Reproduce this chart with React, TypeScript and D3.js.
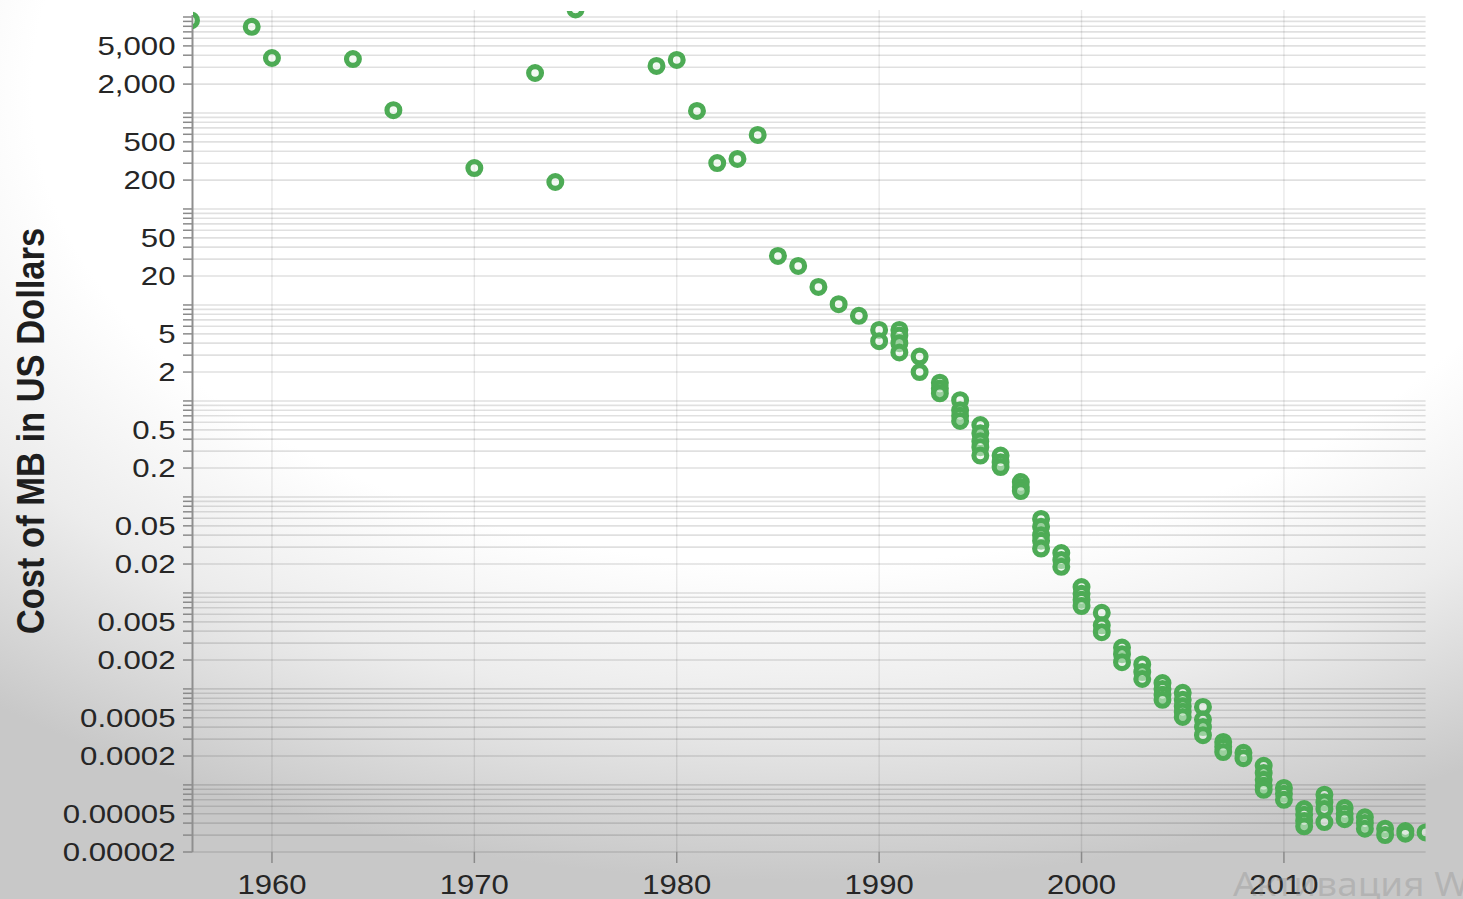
import React from "react";
import * as d3 from "d3";

const years = [
  1956, 1959, 1960, 1964, 1966, 1970, 1973, 1974, 1975, 1979, 1980, 1981, 1982, 1983, 1984,
  1985, 1986, 1987, 1988, 1989,
  1990, 1990,
  1991, 1991, 1991, 1991,
  1992, 1992,
  1993, 1993, 1993,
  1994, 1994, 1994, 1994,
  1995, 1995, 1995, 1995, 1995,
  1996, 1996, 1996,
  1997, 1997, 1997,
  1998, 1998, 1998, 1998, 1998,
  1999, 1999, 1999,
  2000, 2000, 2000, 2000,
  2001, 2001, 2001,
  2002, 2002, 2002,
  2003, 2003, 2003,
  2004, 2004, 2004, 2004,
  2005, 2005, 2005, 2005, 2005,
  2006, 2006, 2006, 2006,
  2007, 2007, 2007,
  2008, 2008,
  2009, 2009, 2009, 2009, 2009,
  2010, 2010, 2010,
  2011, 2011, 2011, 2011,
  2012, 2012, 2012, 2012,
  2013, 2013, 2013,
  2014, 2014, 2014,
  2015, 2015,
  2016, 2016,
  2017,
];

const costs = [
  9200, 7900, 3740, 3650, 1070, 267, 2610, 191, 12000, 3090, 3570, 1050, 301, 332, 590,
  32.4, 25.5, 15.4, 10.2, 7.7,
  5.5, 4.2,
  5.5, 4.8, 4.0, 3.2,
  2.9, 2.0,
  1.55, 1.35, 1.2,
  1.02, 0.8, 0.7, 0.62,
  0.56, 0.46, 0.38, 0.33, 0.27,
  0.27, 0.23, 0.205,
  0.143, 0.127, 0.115,
  0.059, 0.049, 0.04, 0.035, 0.029,
  0.026, 0.022, 0.0187,
  0.0115, 0.0098, 0.0085, 0.0073,
  0.0062, 0.0046, 0.0039,
  0.0027, 0.0023, 0.0019,
  0.0018, 0.0015, 0.00127,
  0.00115, 0.001, 0.00087, 0.00077,
  0.00091, 0.00077, 0.00066, 0.00058, 0.00051,
  0.00065, 0.00048, 0.0004, 0.00033,
  0.00028, 0.00025, 0.00022,
  0.000216, 0.00019,
  0.000158, 0.000133, 0.000113, 0.000098, 0.000089,
  0.000093, 0.000081, 0.00007,
  0.000056, 0.000049, 0.000042, 0.000037,
  0.000079, 0.000066, 0.000056, 0.000041,
  0.0000575, 0.00005, 0.000044,
  0.000046, 0.00004, 0.000035,
  0.000035, 0.00003,
  0.000033, 0.000031,
  0.000032,
];

const yLabelValues = [
  5000, 2000, 500, 200, 50, 20, 5, 2, 0.5, 0.2, 0.05, 0.02, 0.005, 0.002, 0.0005, 0.0002,
  0.00005, 0.00002,
];
const yLabelTexts = [
  "5,000", "2,000", "500", "200", "50", "20", "5", "2", "0.5", "0.2", "0.05", "0.02",
  "0.005", "0.002", "0.0005", "0.0002", "0.00005", "0.00002",
];
const xTickYears = [1960, 1970, 1980, 1990, 2000, 2010];
const yTitle = "Cost of MB in US Dollars";
const watermark = "Активация Windows";

const W = 1463;
const H = 899;
const left = 192.5;
const right = 1425.6;
const top = 17;
const bottom = 852;

export default function App() {
  const x = d3.scaleLinear().domain([1956, 2017]).range([191, right]);
  const y = d3.scaleLog().domain([0.00002, 10000]).range([bottom, top]);
  const ticks = y.ticks();
  const green = "#4dab55";
  const font = "'Liberation Sans', Arial, Helvetica, sans-serif";

  return (
    <svg
      width={W}
      height={H}
      style={{ position: "absolute", left: 0, top: 0, display: "block" }}
    >
      <defs>
        <radialGradient id="bg" cx="0.55" cy="0.1" r="0.88" fx="0.55" fy="0.1">
          <stop offset="0" stopColor="#ffffff" />
          <stop offset="0.6" stopColor="#ffffff" />
          <stop offset="0.78" stopColor="#ececec" />
          <stop offset="1" stopColor="#c8c8c8" />
        </radialGradient>
        <clipPath id="plotClip">
          <rect x={left + 0.5} y={11} width={right - left - 0.5} height={bottom + 20 - 11} />
        </clipPath>
      </defs>
      <rect x={0} y={0} width={W} height={H} fill="url(#bg)" />

      {/* vertical grid lines */}
      {xTickYears.map((yr) => (
        <line
          key={"vg" + yr}
          x1={x(yr)}
          x2={x(yr)}
          y1={10}
          y2={bottom}
          stroke="#000"
          strokeOpacity={0.09}
          strokeWidth={1.4}
        />
      ))}

      {/* horizontal grid lines */}
      {ticks.map((t, i) => (
        <line
          key={"hg" + i}
          x1={left}
          x2={right}
          y1={y(t)}
          y2={y(t)}
          stroke="#000"
          strokeOpacity={0.12}
          strokeWidth={1.6}
        />
      ))}

      {/* y ticks */}
      {ticks.map((t, i) => (
        <line
          key={"yt" + i}
          x1={183}
          x2={left}
          y1={y(t)}
          y2={y(t)}
          stroke="#8a8a8a"
          strokeWidth={1.5}
        />
      ))}
      <line x1={left} x2={left} y1={15} y2={bottom} stroke="#8f8f8f" strokeWidth={2} />

      {/* x ticks */}
      {xTickYears.map((yr) => (
        <line
          key={"xt" + yr}
          x1={x(yr)}
          x2={x(yr)}
          y1={bottom}
          y2={bottom + 11}
          stroke="#8a8a8a"
          strokeWidth={1.5}
        />
      ))}

      {/* y labels */}
      {yLabelValues.map((v, i) => (
        <text
          key={"yl" + i}
          transform={`translate(175.5,${y(v)}) scale(1.2,1)`}
          textAnchor="end"
          dy="0.36em"
          fontFamily={font}
          fontSize={26}
          fill="#262626"
        >
          {yLabelTexts[i]}
        </text>
      ))}

      {/* x labels */}
      {xTickYears.map((yr) => (
        <text
          key={"xl" + yr}
          transform={`translate(${x(yr)},894) scale(1.13,1)`}
          textAnchor="middle"
          fontFamily={font}
          fontSize={27.5}
          fill="#262626"
        >
          {String(yr)}
        </text>
      ))}

      {/* y title */}
      <text
        transform={`translate(44,431) rotate(-90) scale(1,1.14)`}
        textAnchor="middle"
        fontFamily={font}
        fontWeight="bold"
        fontSize={34.5}
        fill="#1e1e1e"
      >
        {yTitle}
      </text>

      {/* points */}
      <g clipPath="url(#plotClip)">
        {years.map((yr, i) => (
          <circle
            key={"p" + i}
            cx={x(yr)}
            cy={y(costs[i])}
            r={6.4}
            fill="#e8f6e8"
            fillOpacity={0.5}
            stroke={green}
            strokeWidth={5.2}
          />
        ))}
      </g>

      {/* watermark */}
      <text
        transform="translate(1233,896) scale(1.12,1)"
        fontFamily="'Noto Sans', 'Open Sans', sans-serif"
        fontSize={33}
        fill="#8c8c8c"
        fillOpacity={0.35}
      >
        {watermark}
      </text>
    </svg>
  );
}
